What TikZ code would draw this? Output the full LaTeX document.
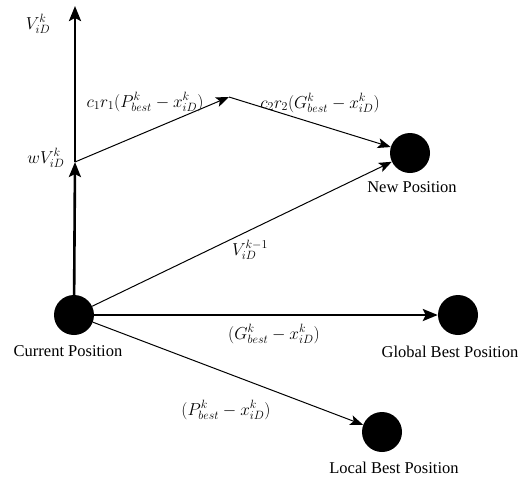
\documentclass[tikz,border=0pt]{standalone}
\usepackage{fontspec}
\setmainfont{Liberation Serif}
\usepackage{tikz}
\usetikzlibrary{arrows.meta,positioning}

\begin{document}
\begin{tikzpicture}[x=1pt, y=-1pt,
    particle/.style={circle, fill=black, minimum size=40pt, inner sep=0pt},
    bigarrow/.style={line width=2.6pt, -{Stealth[length=15pt, width=12pt, inset=3pt]}},
    smallarrow/.style={line width=1pt, -{Stealth[length=13pt, width=10pt, inset=3pt]}},
    poslabel/.style={font=\fontsize{16.5}{19}\selectfont},
    vlabel/.style={font=\fontsize{17.5}{21}\selectfont}]
    \useasboundingbox (0,0) rectangle (525,480);

    % Particles
    \node[particle] (cur) at (74,315) {};
    \node[particle] (gbest) at (458,315) {};
    \node[particle] (lbest) at (382,432) {};
    \node[particle] (newp) at (410,153) {};
    \coordinate (top) at (75,6);
    \coordinate (wv) at (75,162);
    \coordinate (mid) at (229,97);

    % Position labels
    \node[poslabel, below=7pt of cur, xshift=-6pt] {Current Position};
    \node[poslabel, below=7pt of gbest, xshift=-8pt] {Global Best Position};
    \node[poslabel, below=6pt of lbest, xshift=12pt] {Local Best Position};
    \node[poslabel, below=5pt of newp, xshift=2pt] {New Position};

    % Arrows
    \draw[bigarrow] (cur) -- (wv);
    \draw[bigarrow] (wv) -- (top);
    \draw[bigarrow] (cur) -- (gbest);
    \draw[smallarrow] (wv) -- (mid);
    \draw[smallarrow] (mid) -- (newp);
    \draw[smallarrow] (cur) -- (newp);
    \draw[smallarrow] (cur) -- (lbest);

    % Vector labels
    \node[vlabel] at (38,24) {$V_{iD}^{k}$};
    \node[vlabel] at (46,158) {$wV_{iD}^{k}$};
    \node[vlabel] at (145,102) {$c_1r_1(P_{best}^{k} - x_{iD}^{k})$};
    \node[vlabel] at (320,103) {$c_2r_2(G_{best}^{k} - x_{iD}^{k})$};
    \node[vlabel] at (250,250) {$V_{iD}^{k-1}$};
    \node[vlabel] at (274,334) {$(G_{best}^{k} - x_{iD}^{k})$};
    \node[vlabel] at (226,410) {$(P_{best}^{k} - x_{iD}^{k})$};
\end{tikzpicture}
\end{document}
